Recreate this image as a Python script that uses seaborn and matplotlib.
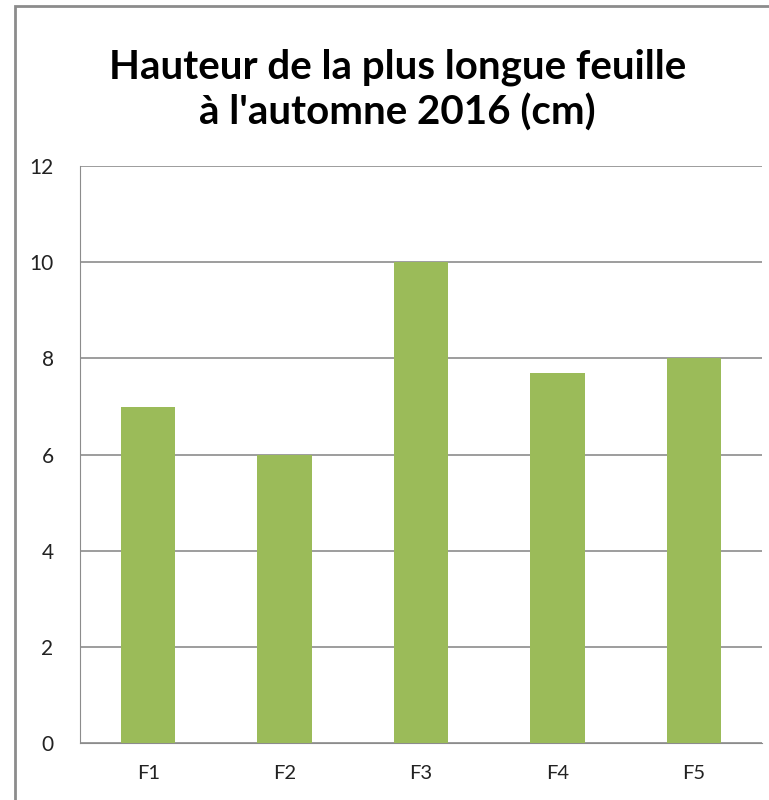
import numpy as np
import pandas as pd
import seaborn as sns
import matplotlib.pyplot as plt
from matplotlib.patches import Rectangle

# data
feuilles = ["F1", "F2", "F3", "F4", "F5"]
hauteurs = [7, 6, 10, 7.7, 8]
y_ticks = [0, 2, 4, 6, 8, 10, 12]
titre = "Hauteur de la plus longue feuille\nà l'automne 2016 (cm)"

df = pd.DataFrame({"feuille": feuilles, "hauteur": hauteurs})

sns.set_style("white")
plt.rcParams['font.family'] = ['Lato', 'DejaVu Sans']

fig = plt.figure(figsize=(7.69, 8), dpi=100)
ax = fig.add_axes([0.104, 0.071, 0.887, 0.7215])

sns.barplot(data=df, x="feuille", y="hauteur", color="#9BBB59", width=0.4,
            saturation=1, linewidth=0, ax=ax, zorder=3)

ax.set_ylim(0, 12)
ax.set_yticks(y_ticks)
ax.set_xlim(-0.5, 4.5)
ax.grid(axis="y", color="#8c8c8c", linewidth=1.2, zorder=0)
ax.set_xlabel("")
ax.set_ylabel("")
for s in ["top", "right"]:
    ax.spines[s].set_visible(False)
ax.spines["left"].set_color("#8c8c8c")
ax.spines["bottom"].set_color("#8c8c8c")

# excel-like ticks: y ticks outward, x ticks at category boundaries
ax.tick_params(axis="y", length=7, color="#8c8c8c", labelsize=15, labelcolor="#222222", pad=12)
ax.set_xticks(np.arange(5))
ax.set_xticklabels(feuilles)
ax.tick_params(axis="x", length=0, labelsize=14.5, labelcolor="#222222", pad=16)
ax.set_xticks(np.arange(-0.5, 5, 1), minor=True)
ax.tick_params(axis="x", which="minor", length=8, color="#8c8c8c")

fig.suptitle(titre, x=0.517, y=0.94, fontsize=29, fontweight="bold", linespacing=1.25,
             color="black")

# chart frame
fig.patches.append(Rectangle((15 / 769, -0.01), 1.0, 1 - 6 / 800 + 0.01, transform=fig.transFigure,
                             fill=False, edgecolor="#8c8c8c", linewidth=2))

fig.savefig("out.png", dpi=100)
